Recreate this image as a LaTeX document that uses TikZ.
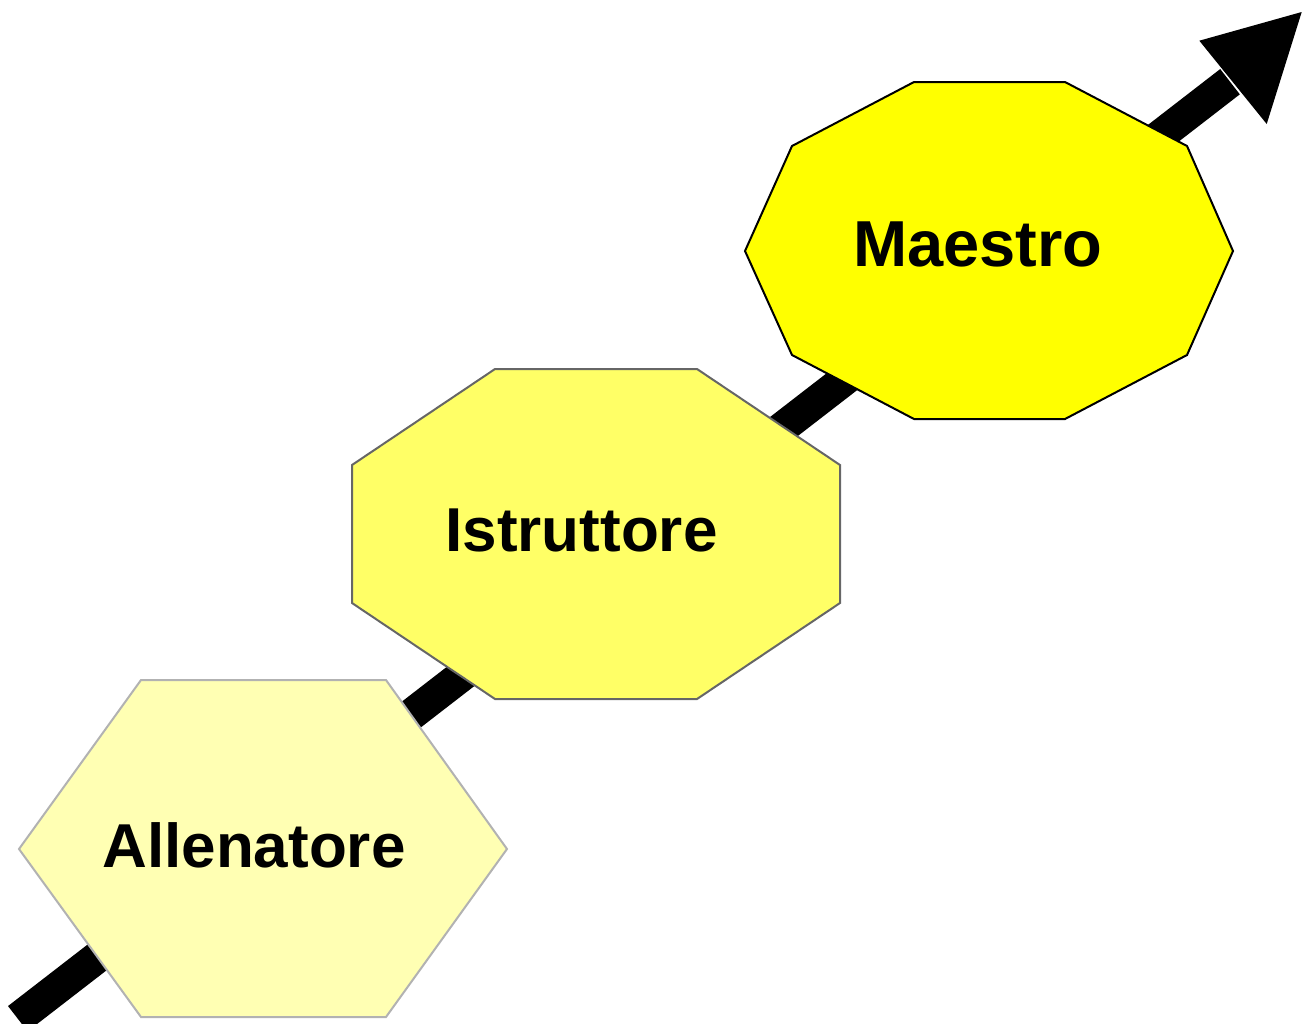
\documentclass[tikz,border=0pt]{standalone}
\usepackage{fontspec}
\setmainfont{Liberation Sans}
\usepackage{xcolor}
\usepackage{tikz}

\definecolor{paleyellow}{HTML}{FFFFB3}
\definecolor{midyellow}{HTML}{FFFF66}
\definecolor{fullyellow}{HTML}{FFFF00}

\begin{document}
\begin{tikzpicture}[x=1pt, y=-1pt,
    level/.style={line width=2pt, line join=miter},
    levellabel/.style={anchor=base, inner sep=0pt, font=\bfseries\fontsize{62}{62}\selectfont}]
    \useasboundingbox (0,0) rectangle (1311,1023);

    % Arrow behind the levels
    \coordinate (start) at (17.8,1018.7);
    \coordinate (base) at (1230,81.7);
    \coordinate (tip) at (1301.7,12);
    \coordinate (barbl) at (1199.3,40.7);
    \coordinate (barbr) at (1266.7,124);
    \draw[line width=32pt] (start) -- (base);
    \fill (barbl) -- (tip) -- (barbr) -- cycle;

    % Allenatore
    \draw[level, draw=black!30, fill=paleyellow] (19,849) -- (141,680) -- (386,680) -- (507,849)
        -- (386,1017) -- (141,1017) -- cycle;
    \node[levellabel] (allenatore) at (254,867.3) {Allenatore};

    % Istruttore
    \draw[level, draw=black!60, fill=midyellow] (352,465) -- (495,369) -- (697,369) -- (840,465)
        -- (840,603) -- (697,699) -- (495,699) -- (352,603) -- cycle;
    \node[levellabel] (istruttore) at (581.5,551.7) {Istruttore};

    % Maestro
    \draw[level, draw=black, fill=fullyellow] (745,251) -- (792,146) -- (914,82) -- (1065,82)
        -- (1187,146) -- (1233,251) -- (1187,355) -- (1065,419) -- (914,419) -- (792,355) -- cycle;
    \node[levellabel, font=\bfseries\fontsize{65}{65}\selectfont] (maestro) at (978,266.7) {Maestro};
\end{tikzpicture}
\end{document}
